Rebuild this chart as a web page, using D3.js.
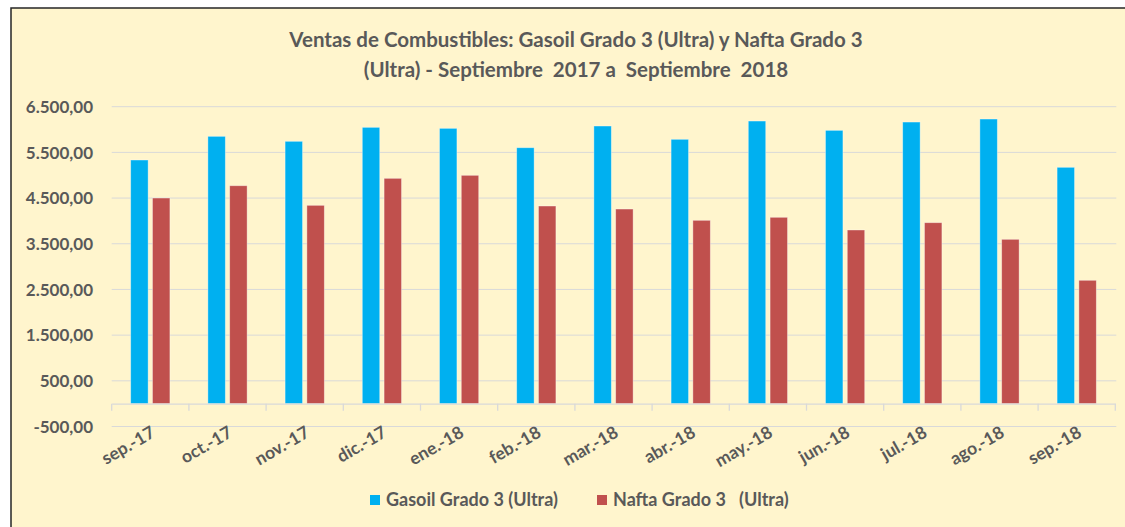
<html>
<head>
  <meta charset="utf-8">
  <script src="https://d3js.org/d3.v7.min.js"></script>
  <style>
    body { margin: 0; background: #fff; }
    text { font-family: Lato, "Open Sans", sans-serif; font-weight: bold; fill: #595959; white-space: pre; }
  </style>
</head>
<body>
  <div id="chart"></div>
  <script>

    // Data
    var months = ["sep.-17", "oct.-17", "nov.-17", "dic.-17", "ene.-18", "feb.-18", "mar.-18",
                  "abr.-18", "may.-18", "jun.-18", "jul.-18", "ago.-18", "sep.-18"];
    var gasoil = [5333, 5851, 5742, 6048, 6026, 5602, 6077, 5786, 6186, 5982, 6164, 6230, 5173];
    var nafta  = [4501, 4770, 4341, 4932, 4998, 4326, 4260, 4013, 4079, 3801, 3961, 3597, 2700];
    var seriesNames = ["Gasoil Grado 3 (Ultra)", "Nafta Grado 3   (Ultra)"];
    var yTicks = [-500, 500, 1500, 2500, 3500, 4500, 5500, 6500];
    var colors = ["#00B0F0", "#C0504D"];

    var W = 1125, H = 527;
    var plot = {left: 111.7, right: 1115.3, top: 106.7, bottom: 426.5};

    var svg = d3.select("#chart")
      .append("svg")
        .attr("width", W)
        .attr("height", H);

    // chart frame
    svg.append("rect")
      .attr("x", 11).attr("y", 8)
      .attr("width", W + 10).attr("height", H + 10)
      .attr("fill", "#FFF5CD")
      .attr("stroke", "#262626")
      .attr("stroke-width", 1.5);

    // title
    var title = svg.append("text")
      .attr("text-anchor", "middle")
      .style("font-size", "20.5px");
    title.append("tspan").attr("x", 576).attr("y", 47)
      .text("Ventas de Combustibles: Gasoil Grado 3 (Ultra) y Nafta Grado 3");
    title.append("tspan").attr("x", 576).attr("y", 77)
      .text("(Ultra) - Septiembre  2017 a  Septiembre  2018");

    var y = d3.scaleLinear()
      .domain([-500, 6500])
      .range([plot.bottom, plot.top]);

    var x0 = d3.scaleBand()
      .domain(months)
      .range([plot.left, plot.right])
      .paddingInner(0.492)
      .paddingOuter(0.246);

    var x1 = d3.scaleBand()
      .domain([0, 1])
      .range([0, x0.bandwidth()])
      .paddingInner(0.2);

    // gridlines
    svg.append("g")
      .selectAll("line")
      .data(yTicks)
      .join("line")
        .attr("x1", plot.left).attr("x2", plot.right + 1)
        .attr("y1", d => y(d)).attr("y2", d => y(d))
        .attr("stroke", "#D9D9D9")
        .attr("stroke-width", 1);

    // y axis labels
    var fmt = d3.formatLocale({decimal: ",", thousands: ".", grouping: [3], minus: "-"}).format(",.2f");
    svg.append("g")
      .selectAll("text")
      .data(yTicks)
      .join("text")
        .attr("x", 93)
        .attr("y", d => y(d))
        .attr("dy", "0.36em")
        .attr("text-anchor", "end")
        .style("font-size", "17px")
        .text(d => fmt(d));

    // bars
    var rows = months.map((m, i) => ({month: m, values: [gasoil[i], nafta[i]]}));
    svg.append("g")
      .selectAll("g")
      .data(rows)
      .join("g")
        .attr("transform", d => `translate(${x0(d.month)},0)`)
      .selectAll("rect")
      .data(d => d.values.map((v, k) => ({k: k, v: v})))
      .join("rect")
        .attr("x", d => x1(d.k))
        .attr("y", d => y(d.v))
        .attr("width", x1.bandwidth())
        .attr("height", d => y(0) - y(d.v))
        .attr("fill", d => colors[d.k])
        .attr("stroke", "#fff")
        .attr("stroke-opacity", 0.45)
        .attr("stroke-width", 0.8);

    // category axis at zero
    var xAxis = svg.append("g")
      .attr("transform", `translate(0,${y(0)})`)
      .call(d3.axisBottom(x0).tickSize(0).tickFormat(""));
    xAxis.select(".domain").attr("stroke", "#D9D9D9").attr("stroke-width", 1.3);
    var step = x0.step();
    xAxis.append("g")
      .selectAll("line")
      .data(d3.range(months.length + 1))
      .join("line")
        .attr("x1", i => plot.left + i * step).attr("x2", i => plot.left + i * step)
        .attr("y1", 0).attr("y2", 7)
        .attr("stroke", "#D9D9D9")
        .attr("stroke-width", 1.3);

    // rotated month labels
    svg.append("g")
      .selectAll("text")
      .data(months)
      .join("text")
        .attr("transform", d => `translate(${x0(d) + x0.bandwidth() / 2 + 6},436) rotate(-30)`)
        .attr("text-anchor", "end")
        .style("font-size", "17.5px")
        .text(d => d);

    // legend
    var legendX = [370, 597];
    var legend = svg.append("g")
      .selectAll("g")
      .data(seriesNames)
      .join("g")
        .attr("transform", (d, i) => `translate(${legendX[i]},495)`);
    legend.append("rect")
      .attr("width", 10).attr("height", 10)
      .attr("fill", (d, i) => colors[i]);
    legend.append("text")
      .attr("x", 16).attr("y", 11)
      .style("font-size", "18px")
      .text(d => d);

  </script>
</body>
</html>
